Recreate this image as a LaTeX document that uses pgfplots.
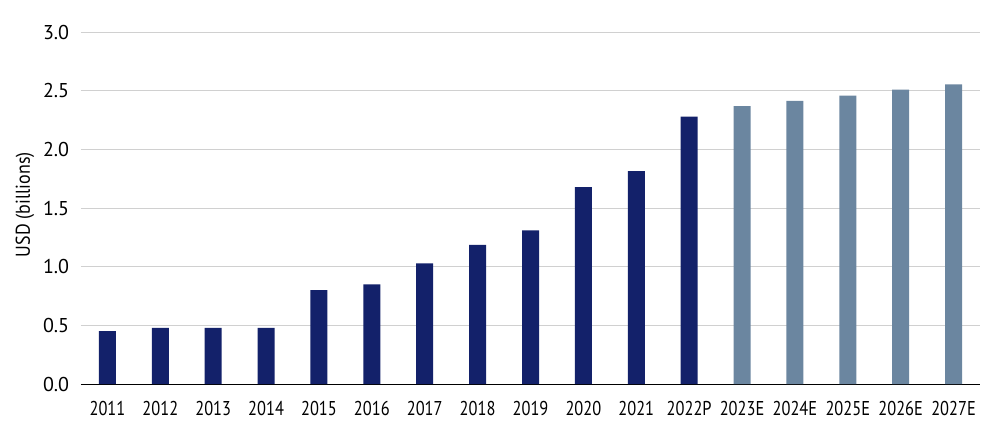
\documentclass[border=0pt]{standalone}
\usepackage{fontspec}
\setmainfont{PT Sans}[FakeStretch=0.82]
\newfontfamily\ywide{PT Sans}
\newfontfamily\ylab{PT Sans}[FakeStretch=0.9]
\usepackage{pgfplots}
\pgfplotsset{compat=1.18}
\definecolor{navy}{HTML}{13216A}
\definecolor{steel}{HTML}{6B86A0}
\definecolor{gridgray}{HTML}{D0D0D0}
\begin{document}
\fontsize{20}{24}\selectfont
\begin{tikzpicture}
\begin{axis}[
    scale only axis,
    width=899pt, height=351.7pt,
    xmin=-0.5, xmax=16.5,
    ymin=0, ymax=3,
    ytick={0,0.5,...,3},
    xtick={0,...,16},
    xticklabels={2011,2012,2013,2014,2015,2016,2017,2018,2019,2020,2021,2022P,2023E,2024E,2025E,2026E,2027E},
    axis lines*=left,
    x axis line style={black, line width=1pt, -},
    y axis line style={draw=none, -},
    major tick length=0pt,
    ymajorgrids,
    grid style={gridgray, line width=1pt},
    /pgf/number format/assume math mode=true,
    xticklabel style={yshift=-10pt, font=\fontsize{20}{24}\selectfont},
    yticklabel style={/pgf/number format/fixed, /pgf/number format/fixed zerofill, /pgf/number format/precision=1, xshift=-5pt, font=\ywide\fontsize{20}{24}\selectfont},
    ylabel={USD (billions)},
    every axis y label/.style={at={(axis description cs:-0.0623,0.51)}, rotate=90, anchor=center, font=\ylab\fontsize{20}{24}\selectfont},
    clip=false,
]
\addplot[ybar, bar width=17pt, bar shift=0pt, fill=navy, draw=none] coordinates {
    (0,0.452) (1,0.478) (2,0.478) (3,0.478) (4,0.80) (5,0.85) (6,1.03)
    (7,1.186) (8,1.31) (9,1.68) (10,1.815) (11,2.28)
};
\addplot[ybar, bar width=17pt, bar shift=0pt, fill=steel, draw=none] coordinates {
    (12,2.37) (13,2.415) (14,2.46) (15,2.51) (16,2.555)
};
\end{axis}
\pgfresetboundingbox
\path ([shift={(-81pt,-56pt)}]current axis.south west) rectangle ([shift={(20pt,32.3pt)}]current axis.north east);
\end{tikzpicture}
\end{document}
